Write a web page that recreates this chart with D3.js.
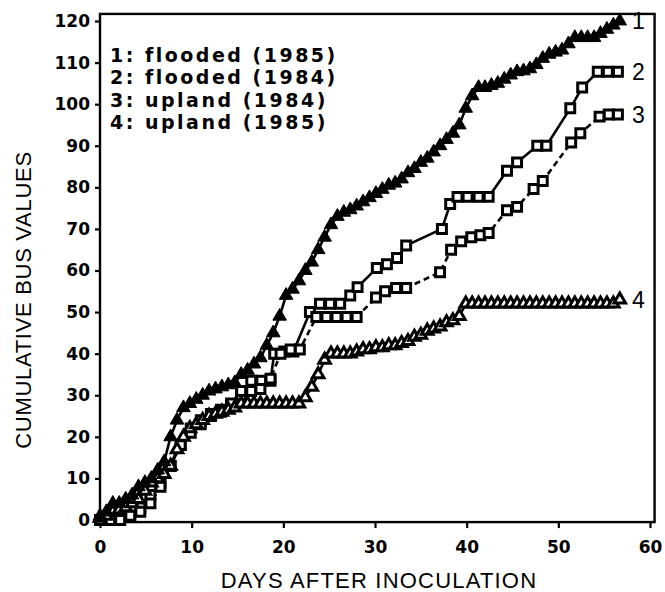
<!DOCTYPE html>
<html>
<head>
<meta charset="utf-8">
<script src="https://cdn.jsdelivr.net/npm/d3@7"></script>
<style>
  body { margin: 0; background: #fff; }
  svg { display: block; }
</style>
</head>
<body>
<div id="chart"></div>
<script>
// jours et valeurs cumulées
var s1Days = [0, 0.7, 1.4, 2.1, 2.8, 3.5, 4.2, 4.9, 5.6, 6.3, 7.0, 7.7, 8.4, 9.1, 9.8, 10.5, 11.2, 11.9, 12.6, 13.3,
  14.0, 14.7, 15.4, 16.1, 16.8, 17.5, 18.2, 18.9, 19.6, 20.3, 21.0, 21.7, 22.4, 23.1, 23.8, 24.5, 25.2, 25.9, 26.6, 27.3,
  28.0, 28.7, 29.4, 30.1, 30.8, 31.5, 32.2, 32.9, 33.6, 34.3, 35.0, 35.7, 36.4, 37.1, 37.8, 38.5, 39.2, 39.9, 40.6, 41.3,
  42.0, 42.7, 43.4, 44.1, 44.8, 45.5, 46.2, 46.9, 47.6, 48.3, 49.0, 49.7, 50.4, 51.1, 51.8, 52.5, 53.2, 53.9, 54.6, 55.3,
  56.0, 56.7];
var s1Vals = [1, 2, 4, 4, 5, 6, 8, 9, 10, 12, 14, 20, 24, 27, 28, 29, 30, 31, 31.5, 32,
  32.5, 33, 35, 36, 37.5, 39, 42, 45, 49, 54, 55.5, 57.5, 60, 62, 65, 68, 71, 73, 74, 74.6,
  75.5, 76.5, 77.5, 78.5, 79.5, 80.5, 81, 82, 83.5, 84.5, 86, 87, 88.5, 90, 91.5, 93, 95, 99, 102, 104,
  104, 104.5, 105, 106, 107, 107.8, 108, 108.5, 109.5, 111, 112, 112.5, 113, 114.5, 116, 116, 116, 116, 117, 118,
  119, 120];

var s2Days = [0, 1.1, 2.2, 3.3, 4.4, 5.5, 6.6, 7.7, 8.8, 9.9, 11.0, 12.1, 13.2, 14.3, 15.4, 16.5, 17.6, 18.6, 19.0, 20.1,
  21.1, 22.9, 24.0, 25.1, 26.2, 27.3, 28.1, 30.2, 31.3, 32.4, 33.4, 37.3, 38.2, 39.0, 40.1, 41.3, 42.4, 44.4, 45.5, 47.7,
  48.7, 51.3, 52.6, 54.3, 55.4, 56.5];
var s2Vals = [0, 0, 0, 1, 3, 6, 9, 13, 18, 22, 24, 25.5, 26.5, 27.5, 30, 33.5, 33.5, 33.5, 40, 40.5,
  40.5, 50, 52, 52, 52, 54, 56, 60.6, 61.5, 63, 66, 70, 76, 77.7, 77.7, 77.7, 77.7, 84, 86, 90,
  90, 99, 104, 107.8, 107.8, 107.8];

var s3Days = [0, 1.1, 2.2, 3.3, 4.4, 5.5, 6.6, 7.7, 8.8, 9.9, 11.0, 12.1, 13.2, 14.3, 15.4, 16.5, 17.5, 18.6, 19.7, 20.8,
  21.8, 23.6, 24.7, 25.8, 26.9, 28.0, 30.1, 31.1, 32.3, 33.4, 37.1, 38.3, 39.4, 40.5, 41.5, 42.4, 44.4, 45.5, 47.3, 48.3,
  51.4, 52.4, 54.5, 55.5, 56.5];
var s3Vals = [0, 0, 0, 1, 2, 4, 8, 13, 18, 21, 23, 25, 26, 28, 31, 31, 31.5, 34, 40, 41,
  41, 48.8, 48.8, 48.8, 48.8, 48.8, 53.5, 55, 55.8, 55.8, 59.6, 65, 67, 68, 68.5, 69, 74.5, 75.3, 79.6, 81.5,
  90.8, 93, 97, 97.5, 97.5];

var s4Days = [0, 0.7, 1.4, 2.1, 2.8, 3.5, 4.2, 4.9, 5.6, 6.3, 7.0, 7.7, 8.4, 9.1, 9.8, 10.5, 11.2, 11.9, 12.6, 13.3,
  14.0, 14.7, 15.4, 16.1, 16.8, 17.5, 18.2, 18.9, 19.6, 20.3, 21.0, 21.7, 22.4, 23.1, 23.8, 24.5, 25.2, 25.9, 26.6, 27.3,
  28.0, 28.7, 29.4, 30.1, 30.8, 31.5, 32.2, 32.9, 33.6, 34.3, 35.0, 35.7, 36.4, 37.1, 37.8, 38.5, 39.2, 39.9, 40.6, 41.3,
  42.0, 42.7, 43.4, 44.1, 44.8, 45.5, 46.2, 46.9, 47.6, 48.3, 49.0, 49.7, 50.4, 51.1, 51.8, 52.5, 53.2, 53.9, 54.6, 55.3,
  56.0, 56.7];
var s4Vals = [0.5, 1, 2, 2.5, 3, 4, 5, 7, 9, 10, 11, 13, 17, 20, 22, 23, 24, 25, 25.5, 26,
  26.5, 27, 28, 28, 28, 28, 28, 28, 28, 28, 28, 28, 29.5, 32, 35, 38.5, 40, 40, 40, 40,
  40.5, 41, 41, 41.5, 41.5, 42, 42, 42.5, 43, 44, 44.5, 45.5, 46, 46.5, 47.5, 48, 49, 52, 52, 52,
  52, 52, 52, 52, 52, 52, 52, 52, 52, 52, 52, 52, 52, 52, 52, 52, 52, 52, 52, 52,
  52, 53];

var legendLabels = ["1: flooded (1985)", "2: flooded (1984)", "3: upland (1984)", "4: upland (1985)"];
var endLabels = ["1", "2", "3", "4"];
var xTicks = [0, 10, 20, 30, 40, 50, 60];
var yTicks = [0, 10, 20, 30, 40, 50, 60, 70, 80, 90, 100, 110, 120];

var width = 665, height = 592;
var font = "'Liberation Sans', Arial, Helvetica, sans-serif";
var boldFont = "'DejaVu Sans', 'Liberation Sans', Arial, sans-serif";

var svg = d3.select("#chart")
    .append("svg")
    .attr("width", width)
    .attr("height", height)
    .style("font-family", font);

// Echelles
var x = d3.scaleLinear().domain([0, 60]).range([100, 650]);
var y = d3.scaleLinear().domain([0, 120]).range([520, 21]);

var x0 = x(0), x1 = x(60.5), yTop = y(121.7), yBot = y(-0.5);

function styleAxis(g) {
    g.select(".domain").remove();
    g.selectAll("line").attr("stroke", "#000").attr("stroke-width", 2.2);
    g.selectAll("text").attr("font-size", "17px").attr("font-weight", "bold")
        .attr("font-family", boldFont).attr("fill", "#000");
}

// Axe X
svg.append("g")
    .attr("transform", "translate(0," + yBot + ")")
    .call(d3.axisBottom(x).tickValues(xTicks).tickSize(6).tickSizeOuter(0).tickPadding(13))
    .call(styleAxis);

// Axe Y
svg.append("g")
    .attr("transform", "translate(" + x0 + ",0)")
    .call(d3.axisLeft(y).tickValues(yTicks).tickSize(5).tickSizeOuter(0).tickPadding(5))
    .call(styleAxis);

// Cadre
svg.append("rect")
    .attr("x", x0).attr("y", yTop)
    .attr("width", x1 - x0).attr("height", yBot - yTop)
    .attr("fill", "none").attr("stroke", "#000").attr("stroke-width", 2.4);

// Series
var series = [
    {days: s1Days, vals: s1Vals, dash: null, sym: d3.symbolTriangle, size: 80, fill: "#000", sw: 1},
    {days: s2Days, vals: s2Vals, dash: null, sym: d3.symbolSquare, size: 80, fill: "#fff", sw: 3},
    {days: s3Days, vals: s3Vals, dash: "6,4", sym: d3.symbolSquare, size: 80, fill: "#fff", sw: 3},
    {days: s4Days, vals: s4Vals, dash: null, sym: d3.symbolTriangle, size: 58, fill: "#fff", sw: 3}
];

var line = d3.line()
    .x(function (d) { return x(d[0]); })
    .y(function (d) { return y(d[1]); });

series.forEach(function (s) {
    s.pts = s.days.map(function (d, i) { return [d, s.vals[i]]; });
    svg.append("path")
        .datum(s.pts)
        .attr("d", line)
        .attr("fill", "none")
        .attr("stroke", "#000")
        .attr("stroke-width", 2.6)
        .attr("stroke-dasharray", s.dash);
});

[1, 2, 3, 0].forEach(function (k) {
    var s = series[k];
    svg.append("g").selectAll("path")
        .data(s.pts)
        .enter()
        .append("path")
        .attr("transform", function (d) { return "translate(" + x(d[0]) + "," + y(d[1]) + ")"; })
        .attr("d", d3.symbol().type(s.sym).size(s.size))
        .attr("fill", s.fill)
        .attr("stroke", "#000")
        .attr("stroke-width", s.sw);
});

// Legende
svg.append("g").selectAll("text")
    .data(legendLabels)
    .enter()
    .append("text")
    .attr("x", 110)
    .attr("y", function (d, i) { return 62 + i * 22.4; })
    .attr("font-family", boldFont)
    .attr("font-size", "19px")
    .attr("font-weight", "bold")
    .attr("letter-spacing", "2.5px")
    .text(function (d) { return d; });

// Numeros en bout de courbe
svg.append("g").selectAll("text")
    .data(endLabels)
    .enter()
    .append("text")
    .attr("x", 632)
    .attr("y", function (d, i) {
        var s = series[i];
        return y(s.vals[s.vals.length - 1]) + 8;
    })
    .attr("font-size", "23px")
    .text(function (d) { return d; });

// Titres des axes
svg.append("text")
    .attr("x", (x0 + 650) / 2 + 4)
    .attr("y", 588)
    .attr("text-anchor", "middle")
    .attr("font-size", "22px")
    .attr("letter-spacing", "1.2px")
    .text("DAYS AFTER INOCULATION");

svg.append("text")
    .attr("transform", "translate(31,300) rotate(-90)")
    .attr("text-anchor", "middle")
    .attr("font-size", "22px")
    .attr("letter-spacing", "0.7px")
    .text("CUMULATIVE BUS VALUES");
</script>
</body>
</html>
